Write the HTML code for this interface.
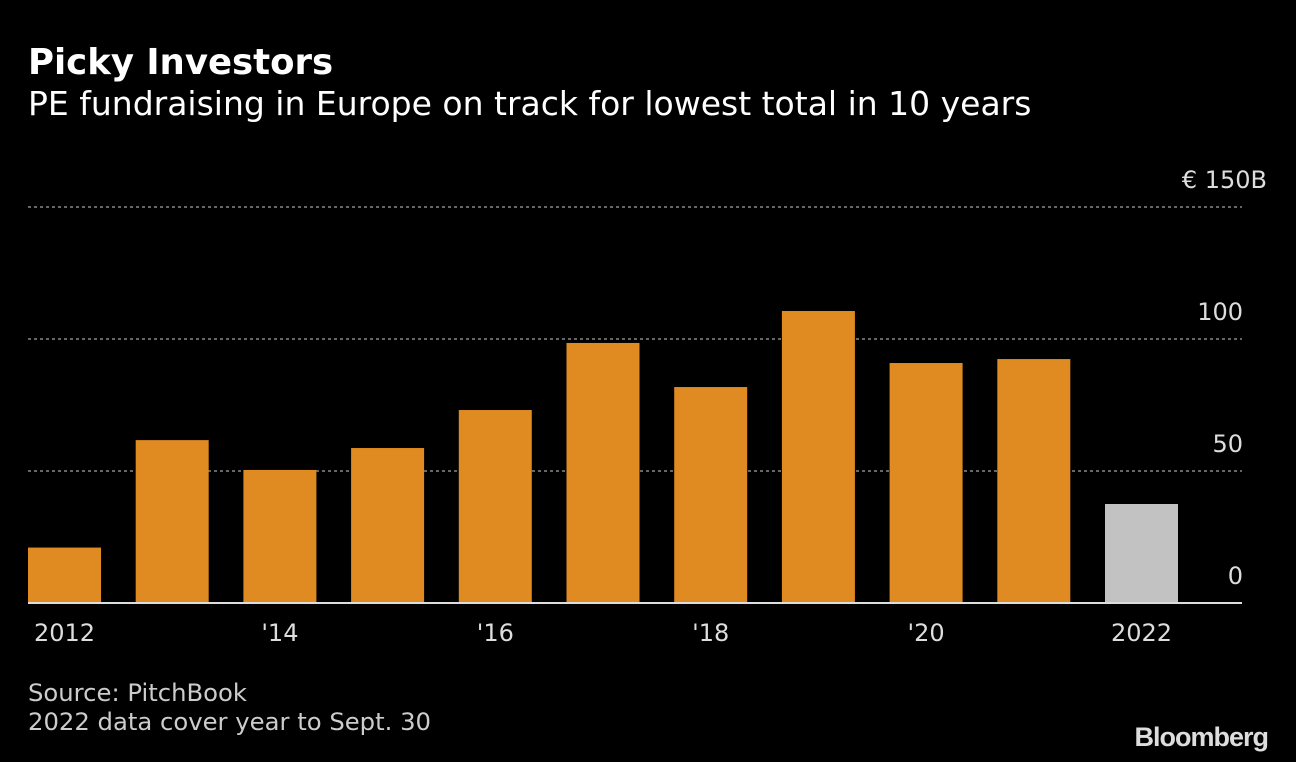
<!DOCTYPE html>
<html><head><meta charset="utf-8"><style>
html,body{margin:0;padding:0;background:#000;}
body{width:1296px;height:762px;position:relative;overflow:hidden;font-family:"DejaVu Sans",sans-serif;color:#fff;}
.t{position:absolute;white-space:nowrap;}
</style></head><body>
<div class="t" style="left:28px;top:42px;font-size:35.5px;font-weight:bold;">Picky Investors</div>
<div class="t" style="left:28px;top:84px;font-size:33px;">PE fundraising in Europe on track for lowest total in 10 years</div>
<svg id="chart" width="1296" height="762" style="position:absolute;left:0;top:0;"></svg>
<div class="t" style="left:28px;top:678px;font-size:24.3px;color:#ccc;">Source: PitchBook</div>
<div class="t" style="left:28px;top:707px;font-size:24.3px;color:#ccc;">2022 data cover year to Sept. 30</div>
<div class="t" style="right:28px;top:722px;font-family:'Liberation Sans',sans-serif;font-size:27px;font-weight:bold;color:#ddd;letter-spacing:-1px;">Bloomberg</div>
<script>
const categories=['2012','2013','2014','2015','2016','2017','2018','2019','2020','2021','2022'];
const values=[21,61.7,50.4,58.7,73.1,98.5,81.8,110.6,90.9,92.4,37.5];
const xLabels=['2012','','\'14','','\'16','','\'18','','\'20','','2022'];
const yTicks=[0,50,100,150];
const yTickLabels=['0','50','100','€ 150B'];
const svg=document.getElementById('chart');
const NS='http://www.w3.org/2000/svg';
const x0=28,band=107.7,bw=73,yBase=603,yTop=207,left=28,right=1242;
const y=v=>yBase-(v/150)*(yBase-yTop);
const xb=i=>x0+i*band;
function mk(t,a){const e=document.createElementNS(NS,t);for(const k in a)e.setAttribute(k,a[k]);svg.appendChild(e);return e;}
yTicks.forEach((v,i)=>{
  if(v>0){const l=mk('line',{x1:left,x2:right,y1:y(v),y2:y(v),stroke:'#888','stroke-width':1.5,'stroke-dasharray':'3,3'});
  
  }
  const last=i===yTicks.length-1;
  const t=mk('text',{x:last?1267:1243,y:y(v)-19,'text-anchor':'end',fill:'#ddd','font-size':24,'font-family':'DejaVu Sans'});
  t.textContent=yTickLabels[i];
  
  
});
categories.forEach((c,i)=>{
  const r=mk('rect',{x:xb(i),y:y(values[i]),width:bw,height:yBase-y(values[i]),fill:i===categories.length-1?'#c2c2c2':'#e08a22'});
  
  
  if(xLabels[i]){const t=mk('text',{x:xb(i)+bw/2,y:641,'text-anchor':'middle',fill:'#ddd','font-size':24,'font-family':'DejaVu Sans'});
  t.textContent=xLabels[i];
  
  }
});
const ax=mk('line',{x1:left,x2:right,y1:yBase,y2:yBase,stroke:'#ddd','stroke-width':2});


</script>
</body></html>
